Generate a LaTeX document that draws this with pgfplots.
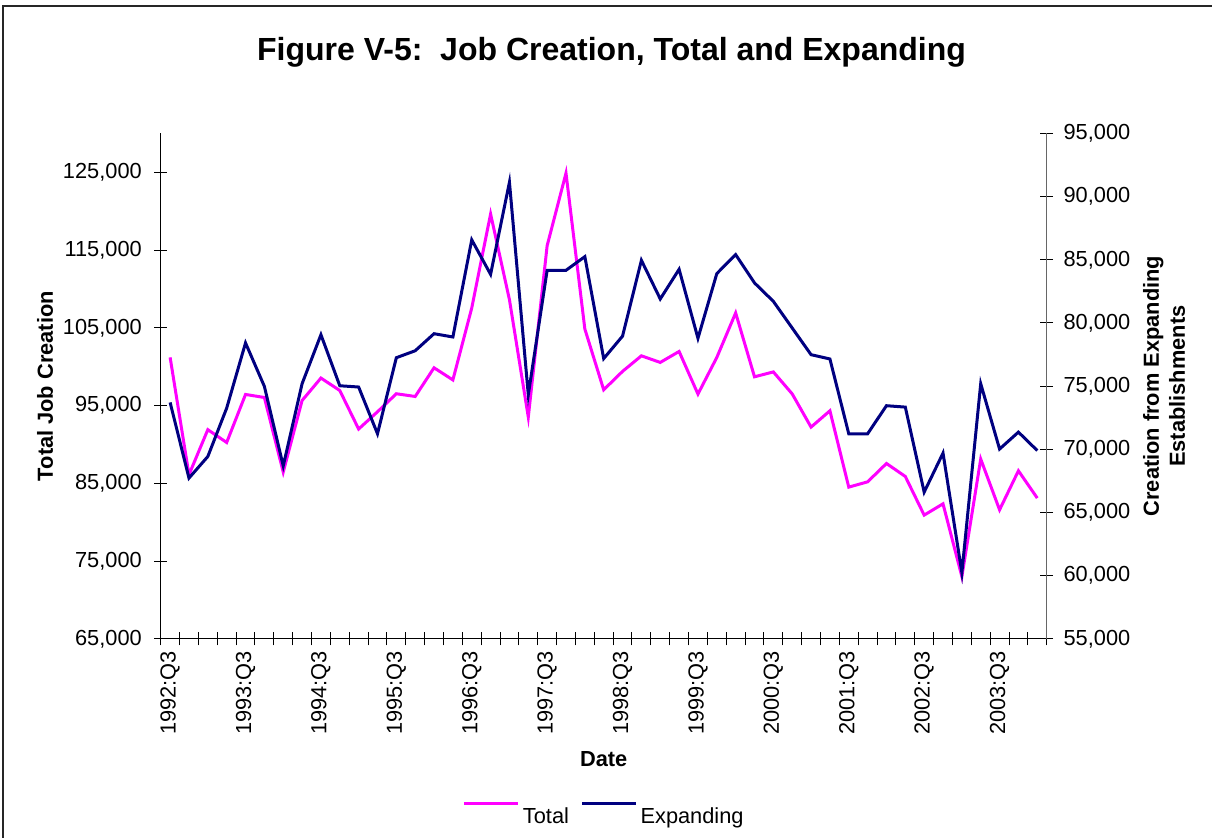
\documentclass[border=0pt]{standalone}
\usepackage{fontspec}
\setmainfont{Liberation Sans}
\usepackage{pgfplots}
\usepackage{pgfplotstable}
\pgfplotsset{compat=1.18}
\definecolor{totc}{RGB}{255,0,255}
\definecolor{expc}{RGB}{0,0,128}

\pgfplotstableread{
i total expanding
0 101200 73710
1 86100 67720
2 91900 69430
3 90250 73260
4 96430 78420
5 96040 74980
6 86440 68690
7 95650 75190
8 98540 79070
9 96940 75030
10 91980 74930
11 94200 71230
12 96520 77250
13 96170 77800
14 99860 79150
15 98300 78890
16 107550 86580
17 119650 83850
18 108620 91140
19 93520 74320
20 115570 84170
21 124900 84170
22 104850 85250
23 97030 77180
24 99400 78960
25 101400 84960
26 100550 81900
27 101960 84250
28 96480 78790
29 101190 83910
30 106920 85410
31 98700 83170
32 99330 81710
33 96500 79600
34 92230 77490
35 94330 77150
36 84510 71230
37 85190 71230
38 87550 73450
39 85880 73340
40 80910 66610
41 82360 69700
42 73000 60240
43 88120 75190
44 81590 70020
45 86610 71360
46 83100 69900
}\datatable

\pgfplotsset{
  common/.style={
    scale only axis, width=443pt, height=252.65pt,
    at={(80.35pt,99.6pt)}, anchor=south west,
    xmin=-0.5, xmax=46.5,
    tick align=center,
    major tick length=6.5pt, minor tick length=6.5pt,
    tick style={black, line width=0.5pt},
    axis line style={line width=0.6pt},
    ticklabel style={font=\fontsize{10.9}{13}\selectfont},
    yticklabel style={/pgf/number format/fixed, /pgf/number format/precision=0, /pgf/number format/assume math mode=true, /pgf/number format/1000 sep={,}, inner sep=0pt},
    scaled y ticks=false,
    label style={font=\fontsize{10.9}{13}\selectfont\bfseries},
  }
}

\begin{document}
\begin{tikzpicture}
\useasboundingbox (0,0) rectangle (606pt,419pt);
\draw[line width=1pt, black!85] (1.5pt,0) -- (1.5pt,415.75pt) -- (606pt,415.75pt);
\node[font=\fontsize{16}{19}\selectfont\bfseries, anchor=base, inner sep=0pt] at (305.75pt,388.5pt) {Figure V-5:\ \ Job Creation, Total and Expanding};

\begin{axis}[common,
  axis x line*=bottom, axis y line*=left,
  ymin=65000, ymax=130000, ytick={65000,75000,...,125000},
  xtick={-0.5,0.5,...,46.5}, xticklabels={},
  extra x ticks={0,4,...,44},
  extra x tick labels={1992:Q3,1993:Q3,1994:Q3,1995:Q3,1996:Q3,1997:Q3,1998:Q3,1999:Q3,2000:Q3,2001:Q3,2002:Q3,2003:Q3},
  extra x tick style={major tick length=0pt},
  xticklabel style={rotate=90, anchor=east, inner sep=0pt},
  xticklabel shift=6pt,
  yticklabel shift=6pt,
  xlabel={Date},
  xlabel style={at={(axis description cs:0.5,-0.2375)}, anchor=center},
  ylabel={Total Job Creation},
  ylabel style={at={(axis description cs:-0.1306,0.5)}, anchor=center},
  legend columns=2,
  legend image code/.code={\path[draw=none] (0pt,-7pt) -- (27pt,-7pt); \draw[#1] (0pt,7pt) -- (27pt,7pt);},
  legend style={draw=none, fill=none, at={(axis description cs:0.4995,-0.352)}, anchor=center,
    font=\fontsize{10.9}{13}\selectfont, nodes={inner sep=0pt},
    /tikz/every odd column/.append style={column sep=1.5pt},
    /tikz/every even column/.append style={column sep=5.8pt}},
]
\addplot[totc, line width=1.5pt, mark=none] table[x=i, y=total]{\datatable};
\addlegendentry{Total}
\addlegendimage{expc, line width=1.5pt}
\addlegendentry{Expanding}
\end{axis}

\begin{axis}[common,
  axis x line=none, axis y line*=right, xtick=\empty,
  y axis line style={black!60},
  ymin=55000, ymax=95000, ytick={55000,60000,...,95000},
  yticklabel shift=5pt,
  ylabel={Creation from Expanding\\Establishments},
  ylabel style={at={(axis description cs:1.1324,0.5)}, anchor=center, align=center},
]
\addplot[expc, line width=1.5pt, mark=none] table[x=i, y=expanding]{\datatable};
\end{axis}
\end{tikzpicture}
\end{document}
